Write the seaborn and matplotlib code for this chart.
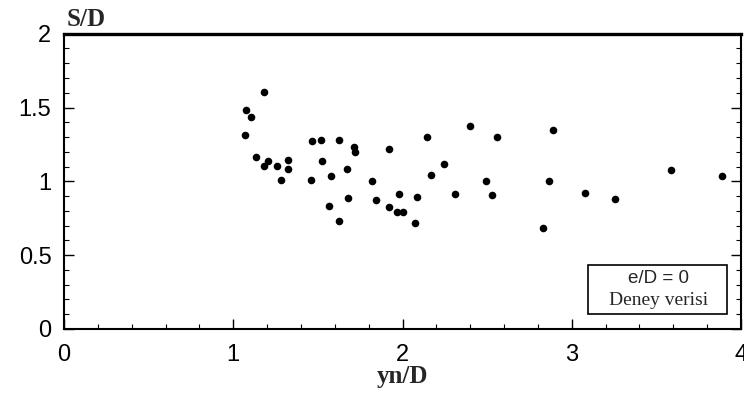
import matplotlib
matplotlib.use("Agg")
import matplotlib.pyplot as plt
import numpy as np
import pandas as pd
import seaborn as sns
from matplotlib.ticker import MultipleLocator
from matplotlib.patches import Rectangle

# Measured relative scour spacing against normalised flow depth (e/D = 0)
yn_D = [1.183, 1.075, 1.107, 1.068, 1.133, 1.182, 1.205, 1.259, 1.280, 1.325,
        1.325, 1.467, 1.520, 1.523, 1.461, 1.579, 1.625, 1.712, 1.721, 1.674,
        1.564, 1.676, 1.625, 1.818, 1.842, 1.918, 1.918, 1.981, 1.966, 2.001,
        2.084, 2.074, 2.143, 2.167, 2.248, 2.397, 2.557, 2.891, 2.312, 2.493,
        2.527, 2.864, 2.830, 3.077, 3.254, 3.588, 3.888]
S_D = [1.603, 1.481, 1.434, 1.314, 1.163, 1.104, 1.138, 1.104, 1.009, 1.143,
       1.086, 1.273, 1.282, 1.136, 1.009, 1.036, 1.278, 1.233, 1.199, 1.086,
       0.835, 0.889, 0.733, 1.000, 0.876, 1.219, 0.826, 0.912, 0.794, 0.794,
       0.896, 0.718, 1.302, 1.045, 1.118, 1.377, 1.298, 1.346, 0.914, 1.004,
       0.908, 1.004, 0.682, 0.923, 0.878, 1.077, 1.036]

x_ticks = [0, 1, 2, 3, 4]
y_ticks = [0, 0.5, 1, 1.5, 2]
y_tick_labels = ["0", "0.5", "1", "1.5", "2"]

sns.set_theme(style="ticks")
plt.rcParams["font.family"] = ["Liberation Sans", "DejaVu Sans"]

fig = plt.figure(figsize=(7.44, 3.94), dpi=100)
ax = fig.add_axes([0.086, 0.165, 0.910, 0.7495])

df = pd.DataFrame({"yn/D": yn_D, "S/D": S_D})
sns.scatterplot(data=df, x="yn/D", y="S/D", ax=ax, color="black",
                s=30, linewidth=0, legend=False)

ax.set_xlim(0, 4)
ax.set_ylim(0, 2)
ax.set_xticks(x_ticks)
ax.set_xticklabels([str(t) for t in x_ticks])
ax.set_yticks(y_ticks)
ax.set_yticklabels(y_tick_labels)
ax.xaxis.set_minor_locator(MultipleLocator(0.2))
ax.yaxis.set_minor_locator(MultipleLocator(0.1))
ax.tick_params(which="both", direction="in", right=True, top=False,
               colors="black", labelsize=17)
ax.tick_params(which="major", length=7, width=1.0)
ax.tick_params(which="minor", length=3.5, width=0.8)
ax.tick_params(axis="x", which="major", pad=11)
ax.tick_params(axis="y", which="major", pad=9)

for side in ["left", "bottom", "right"]:
    ax.spines[side].set_linewidth(1.5)
    ax.spines[side].set_color("black")
ax.spines["top"].set_linewidth(2.4)
ax.spines["top"].set_color("black")

ax.set_xlabel("")
ax.set_ylabel("")
serif_bold = dict(family=["Liberation Serif", "DejaVu Serif"], weight="bold", size=18)
ax.text(0.004, 1.025, "S/D", transform=ax.transAxes, ha="left", va="baseline", **serif_bold)
ax.text(0.5, -0.182, "yn/D", transform=ax.transAxes, ha="center", va="baseline", **serif_bold)

# Annotation box in the lower right corner
ax.add_patch(Rectangle((0.7745, 0.05), 0.2055, 0.167, transform=ax.transAxes,
                       facecolor="white", edgecolor="black", linewidth=1.2, zorder=3))
ax.text(0.878, 0.155, "e/D = 0", transform=ax.transAxes, ha="center", va="baseline",
        fontsize=13.5, zorder=4)
ax.text(0.878, 0.081, "Deney verisi", transform=ax.transAxes, ha="center", va="baseline",
        fontsize=14, family=["Liberation Serif", "DejaVu Serif"], zorder=4)

fig.savefig("out.png", dpi=100)
